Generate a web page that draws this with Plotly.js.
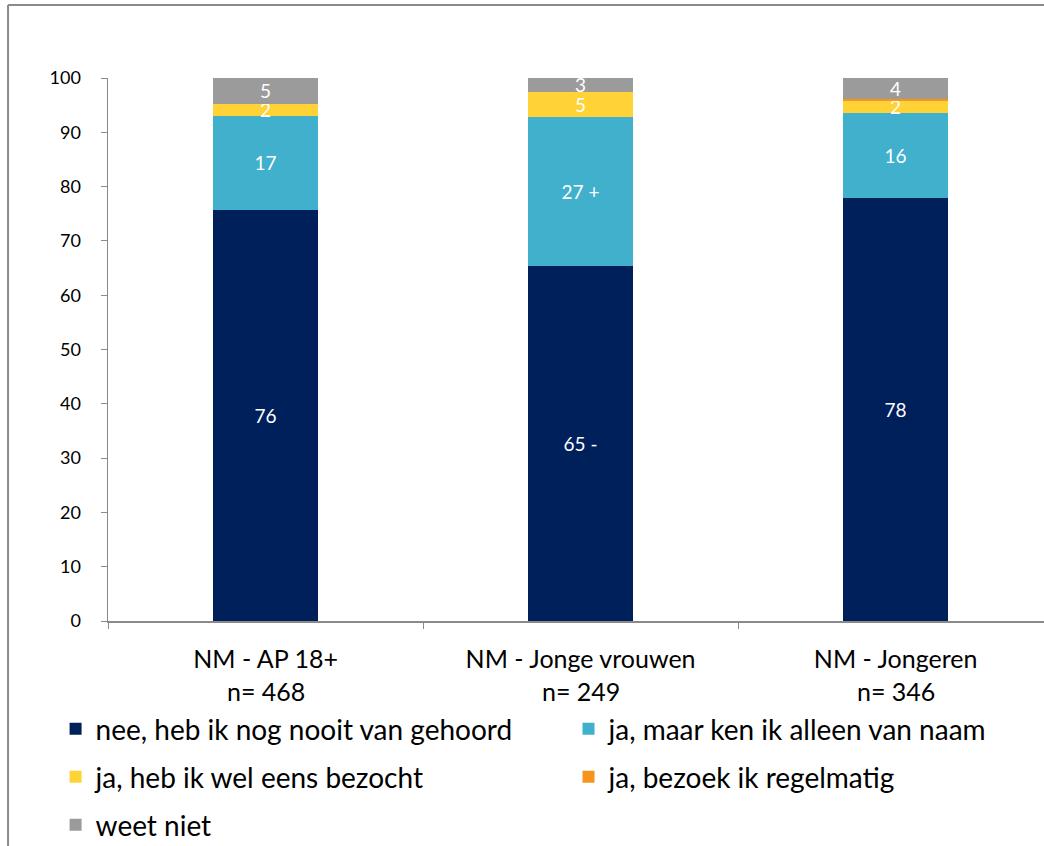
<!DOCTYPE html>
<html>
<head>
<meta charset="utf-8">
<script src="https://cdn.plot.ly/plotly-3.0.1.min.js"></script>
<style>html,body{margin:0;padding:0;background:#fff;}#chart{width:1044px;height:846px;}</style>
</head>
<body>
<div id="chart"></div>
<script>
const categories = ['NM - AP 18+', 'NM - Jonge vrouwen', 'NM - Jongeren'];
const sampleSizes = ['n= 468', 'n= 249', 'n= 346'];
const seriesNames = ['nee, heb ik nog nooit van gehoord', 'ja, maar ken ik alleen van naam', 'ja, heb ik wel eens bezocht', 'ja, bezoek ik regelmatig', 'weet niet'];
const neeValues = [75.7, 65.4, 77.9];
const naamValues = [17.3, 27.5, 15.7];
const bezochtValues = [2.3, 4.6, 2.2];
const regelmatigValues = [0, 0, 0.3];
const weetNietValues = [4.7, 2.5, 3.9];
const neeLabels = ['76', '65 -', '78'];
const naamLabels = ['17', '27 +', '16'];
const bezochtLabels = ['2', '5', '2'];
const regelmatigLabels = ['', '', ''];
const weetNietLabels = ['5', '3', '4'];

const colors = ['#00205B', '#40B0CC', '#FFD236', '#F7941D', '#9B9B9B'];
const FONT = 'Lato, "Open Sans", sans-serif';
const values = [neeValues, naamValues, bezochtValues, regelmatigValues, weetNietValues];
const labels = [neeLabels, naamLabels, bezochtLabels, regelmatigLabels, weetNietLabels];
const legendIds = ['legend', 'legend2', 'legend3', 'legend4', 'legend5'];
// legend grid: column x (paper) and row y (paper)
const colX = [-0.056, 0.492];
const rowY = [-0.1989, -0.2873, -0.3757];
const legendSlots = [[0, 0], [1, 0], [0, 1], [1, 1], [0, 2]];

const traces = seriesNames.map((name, i) => ({
  type: 'bar',
  name: name,
  x: categories,
  y: values[i],
  text: labels[i],
  textposition: 'inside',
  insidetextanchor: 'middle',
  textangle: 0,
  textfont: {family: FONT, size: 19, color: '#ffffff'},
  marker: {color: colors[i]},
  legend: legendIds[i],
  hoverinfo: 'x+y+name'
}));

const layout = {
  width: 1044,
  height: 846,
  margin: {l: 108, r: 0, t: 78, b: 225, autoexpand: false},
  paper_bgcolor: '#ffffff',
  plot_bgcolor: '#ffffff',
  barmode: 'stack',
  bargap: 0.667,
  uniformtext: {mode: 'show', minsize: 19},
  font: {family: FONT, color: '#000'},
  xaxis: {
    type: 'category',
    range: [-0.5, 2.471],
    tickson: 'boundaries',
    ticks: 'outside',
    ticklen: 6,
    tickcolor: '#8a8a8a',
    showline: true,
    linecolor: '#8a8a8a',
    linewidth: 1.5,
    showgrid: false,
    zeroline: false,
    automargin: false,
    tickfont: {family: FONT, size: 25, color: '#000'},
    ticklabelstandoff: 15
  },
  yaxis: {
    range: [0, 100],
    dtick: 10,
    ticks: 'outside',
    ticklen: 6,
    tickcolor: '#8a8a8a',
    showline: true,
    linecolor: '#8a8a8a',
    linewidth: 1.5,
    showgrid: false,
    zeroline: false,
    automargin: false,
    tickfont: {family: FONT, size: 18, color: '#000'},
    ticklabelstandoff: 16
  },
  annotations: categories.map((c, i) => ({
    x: c, xref: 'x', y: -0.129, yref: 'paper',
    text: sampleSizes[i], showarrow: false,
    xanchor: 'center', yanchor: 'middle',
    font: {family: FONT, size: 25, color: '#000'}
  })),
  shapes: [
    {type: 'line', xref: 'paper', yref: 'paper', x0: -0.1068, x1: -0.1068, y0: 1.1344, y1: -0.5, line: {color: '#8a8a8a', width: 2}},
    {type: 'line', xref: 'paper', yref: 'paper', x0: -0.1068, x1: 1.05, y0: 1.1344, y1: 1.1344, line: {color: '#8a8a8a', width: 2}}
  ],
  showlegend: true
};

legendIds.forEach((id, i) => {
  const slot = legendSlots[i];
  layout[id] = {
    orientation: 'h',
    x: colX[slot[0]],
    y: rowY[slot[1]],
    xanchor: 'left',
    yanchor: 'middle',
    font: {family: FONT, size: 28, color: '#000'},
    bgcolor: 'rgba(0,0,0,0)'
  };
});

Plotly.newPlot('chart', traces, layout, {displayModeBar: false, staticPlot: true});
</script>
</body>
</html>
